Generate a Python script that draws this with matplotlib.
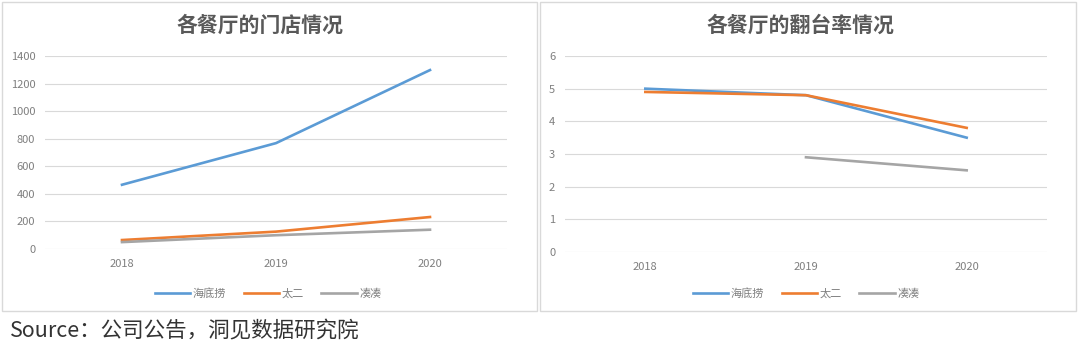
import matplotlib
matplotlib.use("Agg")
import matplotlib.pyplot as plt
from matplotlib.patches import Rectangle

plt.rcParams['font.family'] = ['Noto Sans CJK SC', 'DejaVu Sans']

years = ["2018", "2019", "2020"]
series_names = ["海底捞", "太二", "凑凑"]
stores_haidilao = [466, 768, 1298]
stores_taier = [65, 126, 232]
stores_coucou = [50, 100, 140]
turnover_haidilao = [5.0, 4.8, 3.5]
turnover_taier = [4.9, 4.8, 3.8]
turnover_coucou = [None, 2.9, 2.5]
colors = ["#5b9bd5", "#ed7d31", "#a5a5a5"]

W, H = 1080, 351
fig = plt.figure(figsize=(W / 100, H / 100), dpi=100)
fig.patch.set_facecolor("white")

def fx(px):
    return px / W

def fy(py):
    return 1 - py / H

# panel borders
for x0, x1 in [(2, 537), (540, 1076)]:
    fig.patches.append(Rectangle((fx(x0), fy(311)), fx(x1 - x0), (309) / H,
                                 transform=fig.transFigure, fill=False,
                                 edgecolor="#d9d9d9", linewidth=1.0, zorder=0))

def style_axes(ax, ylim, yticks):
    ax.set_xlim(-0.5, 2.5)
    ax.set_ylim(*ylim)
    ax.set_yticks(yticks)
    ax.set_xticks(range(len(years)))
    ax.set_xticklabels(years)
    for s in ax.spines.values():
        s.set_visible(False)
    ax.grid(axis="y", color="#d9d9d9", linewidth=0.8)
    ax.set_axisbelow(True)
    ax.tick_params(length=0, labelsize=8, labelcolor="#7f7f7f", pad=7)

# left chart
ax1 = fig.add_axes([fx(45), fy(249), fx(507 - 45), (249 - 56) / H])
for vals, c, n in zip([stores_haidilao, stores_taier, stores_coucou], colors, series_names):
    ax1.plot(range(len(years)), vals, color=c, linewidth=1.9, label=n)
style_axes(ax1, (0, 1400), range(0, 1401, 200))
fig.text(fx(260), fy(25), "各餐厅的门店情况", ha="center", va="center",
         fontsize=15, fontweight="bold", color="#595959")
fig.legend(*ax1.get_legend_handles_labels(), loc="center", bbox_to_anchor=(fx(268), fy(293)),
           ncol=3, frameon=False, fontsize=8, labelcolor="#7f7f7f",
           handlelength=3.2, handletextpad=0.2, columnspacing=1.6)

# right chart
ax2 = fig.add_axes([fx(565), fy(252), fx(1047 - 565), (252 - 56) / H])
for vals, c, n in zip([turnover_haidilao, turnover_taier, turnover_coucou], colors, series_names):
    xs = [i for i, v in enumerate(vals) if v is not None]
    ys = [v for v in vals if v is not None]
    ax2.plot(xs, ys, color=c, linewidth=1.9, label=n)
style_axes(ax2, (0, 6), range(0, 7))
fig.text(fx(800), fy(25), "各餐厅的翻台率情况", ha="center", va="center",
         fontsize=15, fontweight="bold", color="#595959")
fig.legend(*ax2.get_legend_handles_labels(), loc="center", bbox_to_anchor=(fx(806), fy(293)),
           ncol=3, frameon=False, fontsize=8, labelcolor="#7f7f7f",
           handlelength=3.2, handletextpad=0.2, columnspacing=1.6)

fig.text(fx(10), fy(330), "Source：公司公告，洞见数据研究院", ha="left", va="center",
         fontsize=15.5, color="#333333")

fig.savefig("out.png", dpi=100, facecolor="white")
